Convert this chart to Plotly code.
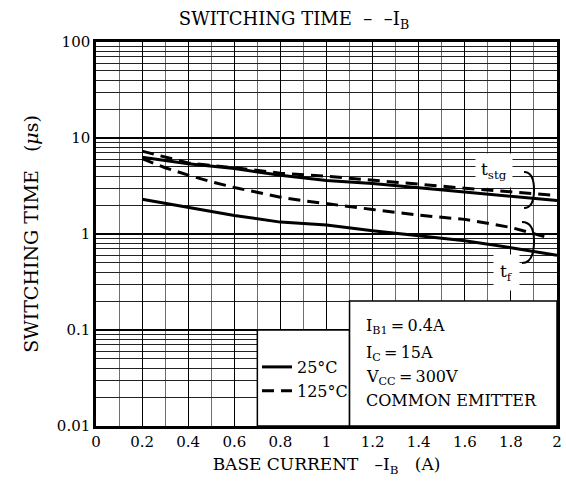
import plotly.graph_objects as go

# ---------------- data ----------------
ib_25 = [0.2, 0.4, 0.6, 0.8, 1.0, 1.2, 1.4, 1.6, 1.8, 2.0]
tstg_25 = [6.3, 5.4, 4.8, 4.1, 3.6, 3.35, 3.03, 2.74, 2.47, 2.23]
tf_25 = [2.3, 1.88, 1.56, 1.33, 1.24, 1.08, 0.96, 0.85, 0.72, 0.60]

ib_125_stg = [0.2, 0.4, 0.6, 0.8, 1.0, 1.2, 1.4, 1.6, 1.8, 2.0]
tstg_125 = [7.3, 5.5, 4.9, 4.3, 4.0, 3.62, 3.3, 3.0, 2.75, 2.52]
ib_125_f = [0.2, 0.3, 0.4, 0.5, 0.6, 0.7, 0.8, 0.9, 1.0, 1.2, 1.4, 1.6, 1.8, 1.96]
tf_125 = [6.1, 4.9, 4.1, 3.5, 3.05, 2.7, 2.42, 2.22, 2.08, 1.8, 1.57, 1.42, 1.17, 0.92]

x_ticks = [0, 0.2, 0.4, 0.6, 0.8, 1, 1.2, 1.4, 1.6, 1.8, 2]
x_ticktext = ["0", "0.2", "0.4", "0.6", "0.8", "1", "1.2", "1.4", "1.6", "1.8", "2"]
x_minor = [0.1, 0.3, 0.5, 0.7, 0.9, 1.1, 1.3, 1.5, 1.7, 1.9]
y_ticks = [0.01, 0.1, 1, 10, 100]
y_ticktext = ["0.01", "0.1", "1", "10", "100"]
y_minor = [k * d for d in [0.01, 0.1, 1, 10] for k in range(2, 10)]

legend_names = ["25°C", "125°C"]
cond_lines = ["I<sub>B1</sub>\u2009=\u20090.4A", "I<sub>C</sub>\u2009=\u200915A",
              "V<sub>CC</sub>\u2009=\u2009300V", "COMMON EMITTER"]

FONT = "DejaVu Serif"
W, H = 566, 490
ML, MR, MT, MB = 96, 9, 42, 64


def xp(px):
    return (px - ML) / (W - ML - MR)


def yp(py):
    return (H - MB - py) / (H - MT - MB)


fig = go.Figure()
line_solid = dict(color="black", width=3)
line_dash = dict(color="black", width=3, dash="12px,7px")

fig.add_trace(go.Scatter(x=ib_25, y=tstg_25, mode="lines", line=line_solid,
                         name=legend_names[0], legendgroup="a", showlegend=True))
fig.add_trace(go.Scatter(x=ib_25, y=tf_25, mode="lines", line=line_solid,
                         legendgroup="a", showlegend=False))
fig.add_trace(go.Scatter(x=ib_125_stg, y=tstg_125, mode="lines", line=line_dash,
                         name=legend_names[1], legendgroup="b", showlegend=True))
fig.add_trace(go.Scatter(x=ib_125_f, y=tf_125, mode="lines", line=line_dash,
                         legendgroup="b", showlegend=False))

# white boxes for the legend and conditions
fig.add_shape(type="rect", xref="x", yref="y", x0=0.7, x1=1.1, y0=0.01, y1=0.1,
              fillcolor="white", line=dict(color="black", width=1.5), layer="above")
fig.add_shape(type="rect", xref="x", yref="y", x0=1.1, x1=2.0, y0=0.01, y1=0.2,
              fillcolor="white", line=dict(color="black", width=1.5), layer="above")


def brace(top, mid, bot):
    (x0, y0), (x1, y1), (x2, y2) = top, mid, bot
    return (f"M {xp(x0)},{yp(y0)} C {xp(x1-2)},{yp(y0)} {xp(x1)},{yp(y0+(y1-y0)*0.5)} {xp(x1)},{yp(y1)} "
            f"C {xp(x1)},{yp(y1+(y2-y1)*0.5)} {xp(x1-2)},{yp(y2)} {xp(x2)},{yp(y2)}")


fig.add_shape(type="path", xref="paper", yref="paper",
              path=brace((524, 172), (534, 190), (524, 208)),
              line=dict(color="black", width=2), layer="above")
fig.add_shape(type="path", xref="paper", yref="paper",
              path=brace((522, 222), (534, 241), (522, 263)),
              line=dict(color="black", width=2), layer="above")

ann = []
ann.append(dict(text="t<sub>stg</sub>", xref="paper", yref="paper", x=xp(494), y=yp(170),
                xanchor="center", yanchor="middle",
                showarrow=False, bgcolor="white", borderpad=5,
                font=dict(family=FONT, size=17, color="black")))
ann.append(dict(text="t<sub>f</sub>", xref="paper", yref="paper", x=xp(506), y=yp(272),
                xanchor="center", yanchor="middle",
                showarrow=False, bgcolor="white", borderpad=6,
                font=dict(family=FONT, size=17, color="black")))
for i, (t, py) in enumerate(zip(cond_lines, [326, 353, 377, 400])):
    ann.append(dict(text=t, xref="paper", yref="paper", x=xp(364), y=yp(py),
                    xanchor="left", yanchor="middle", showarrow=False,
                    font=dict(family=FONT, size=16, color="black")))
fig.update_layout(annotations=ann)

fig.update_layout(
    width=W, height=H,
    margin=dict(l=ML, r=MR, t=MT, b=MB, pad=0, autoexpand=False),
    paper_bgcolor="white", plot_bgcolor="white",
    title=dict(text="SWITCHING TIME\u00a0\u00a0–\u00a0\u00a0–I<sub>B</sub>",
               x=294 / W, xref="container", xanchor="center",
               y=1 - 19 / H, yref="container", yanchor="middle",
               font=dict(family=FONT, size=18, color="black")),
    font=dict(family=FONT, color="black"),
    legend=dict(x=xp(257), y=yp(350), xanchor="left", yanchor="top",
                bgcolor="rgba(0,0,0,0)", font=dict(family=FONT, size=16, color="black"),
                tracegroupgap=0, itemwidth=30),
    xaxis=dict(range=[0, 2], tickmode="array", tickvals=x_ticks, ticktext=x_ticktext,
               automargin=False,
               showgrid=True, gridcolor="black", gridwidth=1.2,
               minor=dict(tickmode="array", tickvals=x_minor, showgrid=True,
                          gridcolor="#6e6e6e", gridwidth=1, ticks=""),
               showline=True, linecolor="black", linewidth=2.5, mirror=True,
               ticks="", zeroline=False, tickfont=dict(family=FONT, size=15, color="black"),
               title=dict(text="BASE CURRENT\u00a0\u00a0\u00a0–I<sub>B</sub>\u00a0\u00a0\u00a0(A)",
                          font=dict(family=FONT, size=17, color="black"), standoff=9)),
    yaxis=dict(type="log", range=[-2, 2], tickmode="array", tickvals=y_ticks, ticktext=y_ticktext,
               automargin=False,
               showgrid=True, gridcolor="black", gridwidth=1.5,
               minor=dict(tickmode="array", tickvals=y_minor, showgrid=True,
                          gridcolor="#222222", gridwidth=0.9, ticks=""),
               showline=True, linecolor="black", linewidth=2.5, mirror=True,
               ticks="", zeroline=False, tickfont=dict(family=FONT, size=15, color="black"),
               title=dict(text="SWITCHING TIME\u00a0\u00a0\u00a0(<i>μ</i>s)",
                          font=dict(family=FONT, size=19, color="black"), standoff=14)),
)

fig.write_html("out.html")
